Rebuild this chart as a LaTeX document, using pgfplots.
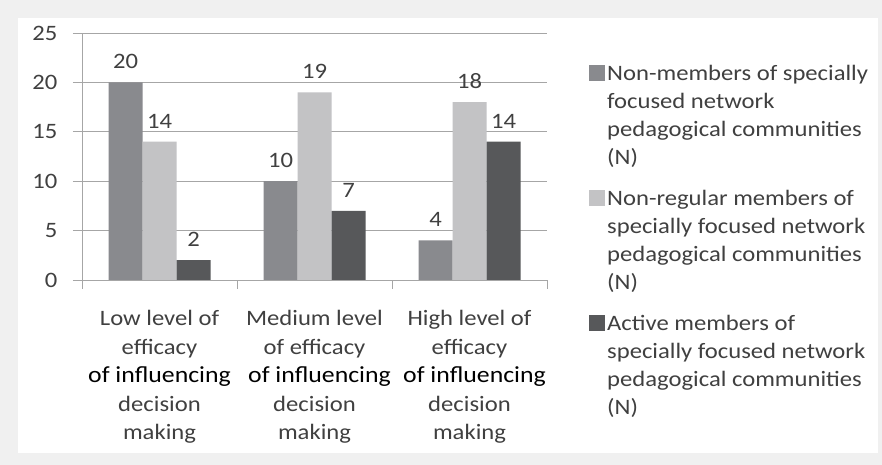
\documentclass[border=0pt]{standalone}
\usepackage{pgfplots}
\pgfplotsset{compat=1.18}
\usepackage{fontspec}
\setmainfont{Carlito}[FakeStretch=1.12]
\definecolor{txt}{HTML}{404040}
\definecolor{sA}{HTML}{898A8E}
\definecolor{sB}{HTML}{C3C3C5}
\definecolor{sC}{HTML}{57585A}
\definecolor{gridc}{HTML}{A6A6A6}
\definecolor{framec}{HTML}{F0F0F0}
\newcommand{\infl}{{\fontsize{23}{28.5}\selectfont\textcolor{black}{of influencing}}}
\begin{document}
\begin{tikzpicture}[x=1pt,y=1pt]
\fill[framec] (0,0) rectangle (882,465);
\fill[white] (18,12) rectangle (878,447);
\path[use as bounding box] (0,0) rectangle (882,465);
\begin{axis}[
  at={(82pt,185pt)}, anchor=south west,
  width=465pt, height=247pt, scale only axis,
  xmin=0.5, xmax=3.5, ymin=0, ymax=25,
  ybar=0pt, bar width=34pt,
  axis x line*=bottom, axis y line*=left,
  axis line style={gridc, line width=0.8pt, -},
  ytick={0,5,10,15,20,25},
  ymajorgrids, grid style={gridc, line width=0.8pt},
  tick align=outside, major tick length=9pt,
  tick style={gridc, line width=0.8pt},
  xtick={0.5,1.5,2.5,3.5}, xticklabels={},
  extra x ticks={1,2,3},
  extra x tick labels={{Low level of\\efficacy\\\infl\\decision\\making},{Medium level\\of efficacy\\\hspace*{10pt}\infl\\decision\\making},{High level of\\efficacy\\\hspace*{10pt}\infl\\decision\\making}},
  extra x tick style={major tick length=0pt, tick label style={align=center, yshift=-27pt}},
  tick label style={font=\fontsize{22}{28.5}\selectfont, text=txt},
  /pgf/number format/assume math mode=true,
  yticklabel style={xshift=-12pt},
  nodes near coords,
  nodes near coords style={font=\fontsize{22}{26}\selectfont, text=txt, anchor=south, yshift=10pt},
  legend style={at={(1,1)}, anchor=north west, xshift=39pt, yshift=-28pt, draw=none, fill=none,
    font=\fontsize{22}{28}\selectfont, text=txt, cells={anchor=west, align=left}, row sep=20pt},
  legend cell align=left,
  legend image code/.code={\fill[#1] (0pt,34.5pt) rectangle (16pt,50.5pt);},
]
\addplot[fill=sA, draw=none] coordinates {(1,20) (2,10) (3,4)};
\addplot[fill=sB, draw=none] coordinates {(1,14) (2,19) (3,18)};
\addplot[fill=sC, draw=none] coordinates {(1,2) (2,7) (3,14)};
\legend{{Non-members of specially\\focused network\\pedagogical communities\\(N)},
        {Non-regular members of\\specially focused network\\pedagogical communities\\(N)},
        {Active members of\\specially focused network\\pedagogical communities\\(N)}}
\end{axis}
\end{tikzpicture}
\end{document}
